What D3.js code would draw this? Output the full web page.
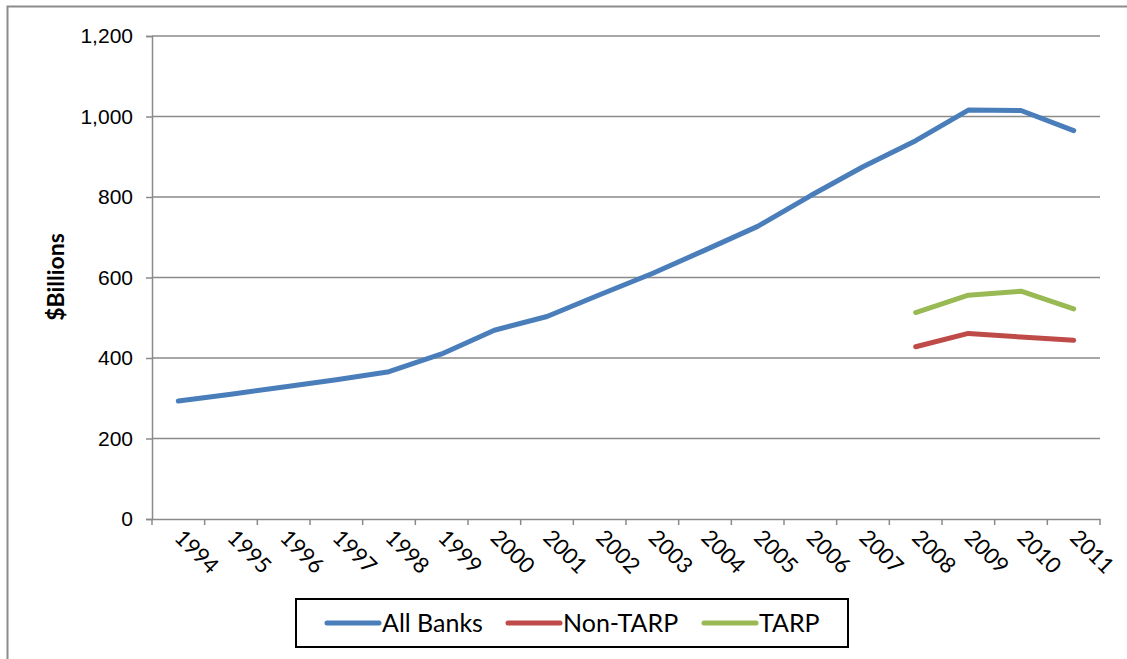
<!DOCTYPE html>
<html>
<head>
<meta charset="utf-8">
<script src="https://cdn.jsdelivr.net/npm/d3@7"></script>
<style>
  body { margin: 0; background: #fff; }
</style>
</head>
<body>
<div id="chart"></div>
<script>
const years = ['1994','1995','1996','1997','1998','1999','2000','2001','2002','2003','2004','2005','2006','2007','2008','2009','2010','2011'];
const allBanks = [293, 310, 328, 346, 366, 410, 469, 503, 557, 610, 668, 727, 803, 875, 940, 1016, 1015, 965];
const nonTarp = [null, null, null, null, null, null, null, null, null, null, null, null, null, null, 428, 461, 452, 444];
const tarp = [null, null, null, null, null, null, null, null, null, null, null, null, null, null, 513, 556, 566, 522];
const yTicks = [0, 200, 400, 600, 800, 1000, 1200];
const seriesNames = ['All Banks', 'Non-TARP', 'TARP'];
const colors = ['#4a7ebb', '#be4b48', '#98b954'];

const width = 1127;
const height = 659;
const plotLeft = 152, plotRight = 1100, plotTop = 36, plotBottom = 519;

var svg = d3.select('#chart')
  .append('svg')
  .attr('width', width)
  .attr('height', height);

// outer frame (left and top only visible)
svg.append('path')
  .attr('d', 'M7.5,' + height + 'V6.5H' + width)
  .attr('fill', 'none')
  .attr('stroke', '#8c8c8c')
  .attr('stroke-width', 2);

const x = d3.scaleBand().domain(years).range([plotLeft, plotRight]);
const y = d3.scaleLinear().domain([0, 1200]).range([plotBottom, plotTop]);

// gridlines
svg.append('g')
  .selectAll('line')
  .data(yTicks.filter(d => d > 0))
  .enter()
  .append('line')
  .attr('x1', plotLeft)
  .attr('x2', plotRight)
  .attr('y1', d => y(d))
  .attr('y2', d => y(d))
  .attr('stroke', '#8a8a8a')
  .attr('stroke-width', 1.5);

// y axis
let yAxis = svg.append('g')
  .attr('transform', 'translate(' + plotLeft + ',0)')
  .call(d3.axisLeft(y).tickValues(yTicks).tickSize(6).tickFormat(d3.format(',')));
yAxis.select('.domain').attr('stroke', '#8a8a8a').attr('stroke-width', 1.5);
yAxis.selectAll('.tick line').attr('stroke', '#8a8a8a').attr('stroke-width', 1.5);
yAxis.selectAll('.tick text')
  .attr('font-family', 'Liberation Sans, Arial, sans-serif')
  .attr('font-size', '21px')
  .attr('fill', '#000')
  .attr('x', -19);

// x axis
let xAxis = svg.append('g')
  .attr('transform', 'translate(0,' + plotBottom + ')')
  .call(d3.axisBottom(x).tickSize(0).tickFormat(''));
xAxis.select('.domain').attr('stroke', '#8a8a8a').attr('stroke-width', 1.5);

// category boundary ticks
const bounds = years.map(d => x(d)).concat([plotRight]);
svg.append('g')
  .selectAll('line')
  .data(bounds)
  .enter()
  .append('line')
  .attr('x1', d => d)
  .attr('x2', d => d)
  .attr('y1', plotBottom)
  .attr('y2', plotBottom + 6)
  .attr('stroke', '#8a8a8a')
  .attr('stroke-width', 1.5);

svg.append('g')
  .selectAll('text')
  .data(years)
  .enter()
  .append('text')
  .attr('transform', d => 'translate(' + (x(d) + x.bandwidth() / 2 - 5) + ',' + (plotBottom + 20) + ') rotate(45)')
  .attr('font-family', 'Lato, Carlito, sans-serif')
  .attr('font-size', '22px')
  .attr('fill', '#000')
  .text(d => d);

// y axis title
svg.append('text')
  .attr('transform', 'translate(64,277) rotate(-90)')
  .attr('text-anchor', 'middle')
  .attr('font-family', 'Lato, Carlito, sans-serif')
  .attr('font-weight', 'bold')
  .attr('font-size', '23px')
  .text('$Billions');

// lines
const allSeries = [allBanks, nonTarp, tarp];
const line = d3.line()
  .defined(d => d.v != null)
  .x(d => x(d.year) + x.bandwidth() / 2)
  .y(d => y(d.v));

allSeries.forEach(function(vals, i) {
  svg.append('path')
    .datum(years.map((yr, j) => ({year: yr, v: vals[j]})))
    .attr('d', line)
    .attr('fill', 'none')
    .attr('stroke', colors[i])
    .attr('stroke-width', 5)
    .attr('stroke-linecap', 'round')
    .attr('stroke-linejoin', 'round');
});

// legend
svg.append('rect')
  .attr('x', 296)
  .attr('y', 599)
  .attr('width', 552)
  .attr('height', 48)
  .attr('fill', '#fff')
  .attr('stroke', '#000')
  .attr('stroke-width', 2);

const legendX = [327, 508, 704];
let items = svg.selectAll('.legend')
  .data(seriesNames)
  .enter()
  .append('g')
  .attr('transform', (d, i) => 'translate(' + legendX[i] + ',623)');

items.append('line')
  .attr('x1', 0)
  .attr('x2', 52)
  .attr('stroke', (d, i) => colors[i])
  .attr('stroke-width', 5)
  .attr('stroke-linecap', 'round');

items.append('text')
  .attr('x', 55)
  .attr('dy', '0.35em')
  .attr('font-family', 'Lato, Carlito, sans-serif')
  .attr('font-size', '25px')
  .attr('fill', '#000')
  .text(d => d);
</script>
</body>
</html>
